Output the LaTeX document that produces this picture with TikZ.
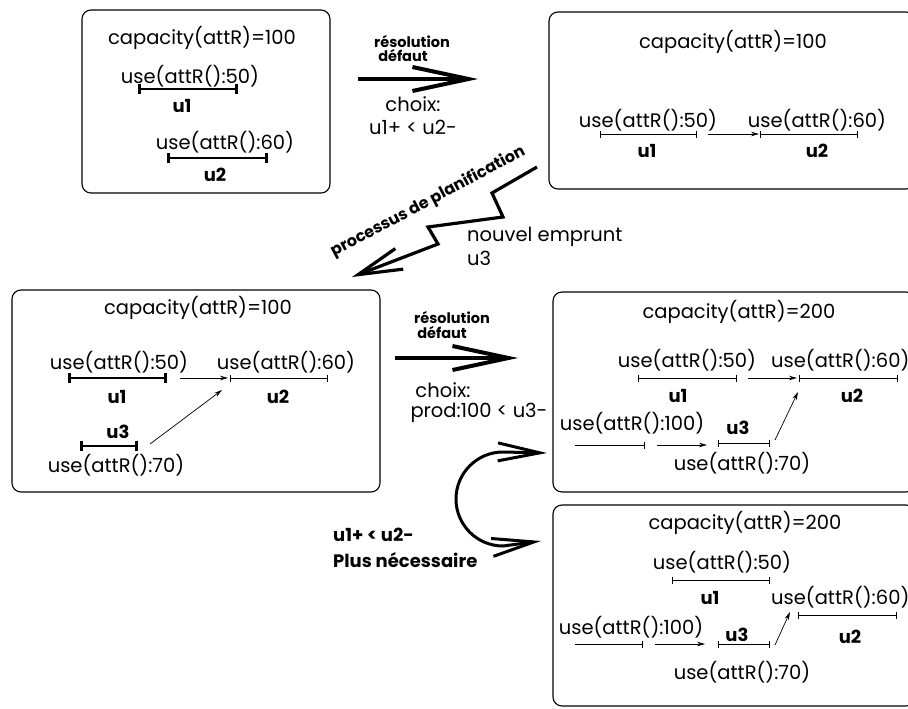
\documentclass[tikz,border=0pt]{standalone}
\usepackage{fontspec}
\setmainfont{Poppins}
\usetikzlibrary{arrows.meta}
\begin{document}
\begin{tikzpicture}[x=1pt,y=-1pt,
  box/.style={draw, rounded corners=9pt, line width=1.1pt, inner sep=0pt},
  txt/.style={inner sep=0pt, font=\fontsize{19.5}{21}\selectfont},
  btxt/.style={inner sep=0pt, font=\fontsize{18}{20}\selectfont\bfseries},
  small/.style={inner sep=0pt, font=\fontsize{14.5}{16}\selectfont\bfseries},
  hbar/.style={line width=2.6pt, {Bar[width=10pt]}-{Bar[width=10pt]}},
  tbar/.style={line width=0.8pt, {Bar[width=7pt]}-{Bar[width=7pt]}},
  tline/.style={line width=0.8pt, -{Bar[width=7pt]}},
  sarr/.style={line width=0.7pt, -{Stealth[length=8pt,width=4.5pt]}},
  bigarr/.style={line width=4pt, -{Straight Barb[length=56pt,width=24pt]}},
  zigarr/.style={line width=3.2pt, line join=miter, -{Straight Barb[length=44pt,width=22pt]}},
  curvarr/.style={line width=3pt, {Straight Barb[length=42pt,width=18pt]}-{Straight Barb[length=42pt,width=18pt]}},
]
\useasboundingbox (0,0) rectangle (908,709);
\clip (0,0) rectangle (908,709);

% ---------- Box 1 ----------
\node[box, minimum width=248pt, minimum height=183pt] (b1) at (206,101.5) {};
\node[txt] (b1cap) at (202,38) {capacity(attR)=100};
\node[txt] (b1t1) at (190,76) {use(attR():50)};
\coordinate (b1u1a) at (138,89); \coordinate (b1u1b) at (238,89);
\draw[hbar] (b1u1a) -- (b1u1b);
\node[btxt] (b1l1) at (182,106) {u1};
\node[txt] (b1t2) at (225,142) {use(attR():60)};
\coordinate (b1u2a) at (167,158); \coordinate (b1u2b) at (268,158);
\draw[hbar] (b1u2a) -- (b1u2b);
\node[btxt] (b1l2) at (215,175) {u2};

% ---------- Arrow 1 ----------
\node[small] (r1a) at (412,42) {résolution};
\node[small] (r1b) at (403,56) {défaut};
\coordinate (a1s) at (358,79); \coordinate (a1e) at (478,79);
\draw[bigarr] (a1s) -- (a1e);
\node[txt] (c1a) at (413,104) {choix:};
\node[txt] (c1b) at (413,127) {u1+ < u2-};

% ---------- Box 2 ----------
\node[box, minimum width=366pt, minimum height=177pt] (b2) at (732,100.5) {};
\node[txt] (b2cap) at (733,42) {capacity(attR)=100};
\node[txt] (b2t1) at (648,120) {use(attR():50)};
\coordinate (b2u1a) at (600,134); \coordinate (b2u1b) at (697,134);
\draw[tbar] (b2u1a) -- (b2u1b);
\node[btxt] (b2l1) at (647,151) {u1};
\coordinate (b2as) at (708,134); \coordinate (b2ae) at (759,134);
\draw[sarr] (b2as) -- (b2ae);
\node[txt] (b2t2) at (817,120) {use(attR():60)};
\coordinate (b2u2a) at (760,134); \coordinate (b2u2b) at (858,134);
\draw[tbar] (b2u2a) -- (b2u2b);
\node[btxt] (b2l2) at (817,151) {u2};

% ---------- Zigzag arrow ----------
\coordinate (z0) at (537,167);
\coordinate (z1) at (492,193);
\coordinate (z2) at (503,217);
\coordinate (z3) at (428,227);
\coordinate (z4) at (438,244);
\coordinate (z5) at (352,277);
\draw[zigarr] (z0) -- (z1) -- (z2) -- (z3) -- (z4) -- (z5);
\node[inner sep=0pt, font=\fontsize{16}{18}\selectfont\bfseries, rotate=28] (plan) at (428,202) {processus de planification};
\node[txt, anchor=west] (nv1) at (467,237) {nouvel emprunt};
\node[txt, anchor=west] (nv2) at (467,258) {u3};

% ---------- Box 3 ----------
\node[box, minimum width=368pt, minimum height=202pt] (b3) at (196,391) {};
\node[txt] (b3cap) at (198,308) {capacity(attR)=100};
\node[txt] (b3t1) at (119,362) {use(attR():50)};
\coordinate (b3u1a) at (68,378); \coordinate (b3u1b) at (167,378);
\draw[hbar] (b3u1a) -- (b3u1b);
\node[btxt] (b3l1) at (117,397) {u1};
\coordinate (b3as) at (180,378); \coordinate (b3ae) at (228,378);
\draw[sarr] (b3as) -- (b3ae);
\node[txt] (b3t2) at (286,362) {use(attR():60)};
\coordinate (b3u2a) at (230,378); \coordinate (b3u2b) at (328,378);
\draw[tbar] (b3u2a) -- (b3u2b);
\node[btxt] (b3l2) at (278,397) {u2};
\node[btxt] (b3l3) at (118,432) {u3};
\coordinate (b3u3a) at (80,446); \coordinate (b3u3b) at (138,446);
\draw[hbar] (b3u3a) -- (b3u3b);
\node[txt] (b3t3) at (116,465) {use(attR():70)};
\coordinate (b3bs) at (150,444); \coordinate (b3be) at (222,390);
\draw[sarr] (b3bs) -- (b3be);

% ---------- Arrow 2 ----------
\node[small] (r2a) at (452,318) {résolution};
\node[small] (r2b) at (442,333) {défaut};
\coordinate (a2s) at (395,358); \coordinate (a2e) at (518,358);
\draw[bigarr] (a2s) -- (a2e);
\node[txt] (c2a) at (443,390) {choix:};
\node[txt] (c2b) at (479,413) {prod:100 < u3-};

% ---------- Box 4 ----------
\node[box, minimum width=362pt, minimum height=200pt] (b4) at (734,392) {};
\node[txt] (b4cap) at (739,312) {capacity(attR)=200};
\node[txt] (b4t1) at (687,360) {use(attR():50)};
\coordinate (b4u1a) at (638,378); \coordinate (b4u1b) at (737,378);
\draw[tbar] (b4u1a) -- (b4u1b);
\node[btxt] (b4l1) at (678,396) {u1};
\coordinate (b4as) at (748,378); \coordinate (b4ae) at (797,378);
\draw[sarr] (b4as) -- (b4ae);
\node[txt, anchor=west] (b4t2) at (771,360) {use(attR():60)};
\coordinate (b4u2a) at (799,378); \coordinate (b4u2b) at (898,378);
\draw[tbar] (b4u2a) -- (b4u2b);
\node[btxt] (b4l2) at (852,396) {u2};
\node[txt] (b4t4) at (632,423) {use(attR():100)};
\coordinate (b4pa) at (575,445); \coordinate (b4pb) at (645,445);
\draw[tline] (b4pa) -- (b4pb);
\coordinate (b4cs) at (657,445); \coordinate (b4ce) at (707,445);
\draw[sarr] (b4cs) -- (b4ce);
\node[btxt] (b4l3) at (738,428) {u3};
\coordinate (b4u3a) at (718,443); \coordinate (b4u3b) at (770,443);
\draw[tbar] (b4u3a) -- (b4u3b);
\node[txt] (b4t3) at (742,463) {use(attR():70)};
\coordinate (b4bs) at (775,440); \coordinate (b4be) at (798,392);
\draw[sarr] (b4bs) -- (b4be);

% ---------- Curved arrow ----------
\coordinate (cv0) at (547,453);
\coordinate (cv1) at (503,452);
\coordinate (cv2) at (503,546);
\coordinate (cv3) at (541,541);
\draw[curvarr] (cv0) -- (cv1) arc[start angle=90, end angle=270, radius=47pt] -- (cv3);
\node[btxt, anchor=west] (nc1) at (333,535) {u1+ < u2-};
\node[btxt, anchor=west] (nc2) at (333,560) {Plus nécessaire};

% ---------- Box 5 ----------
\node[box, minimum width=362pt, minimum height=201pt] (b5) at (734,605.5) {};
\node[txt] (b5cap) at (745,523) {capacity(attR)=200};
\node[txt] (b5t1) at (722,562) {use(attR():50)};
\coordinate (b5u1a) at (672,580); \coordinate (b5u1b) at (770,580);
\draw[tbar] (b5u1a) -- (b5u1b);
\node[btxt] (b5l1) at (710,598) {u1};
\node[txt, anchor=west] (b5t2) at (771,597) {use(attR():60)};
\coordinate (b5u2a) at (798,615); \coordinate (b5u2b) at (897,615);
\draw[tbar] (b5u2a) -- (b5u2b);
\node[btxt] (b5l2) at (850,637) {u2};
\node[txt] (b5t4) at (631,627) {use(attR():100)};
\coordinate (b5pa) at (575,644); \coordinate (b5pb) at (643,644);
\draw[tline] (b5pa) -- (b5pb);
\coordinate (b5cs) at (655,644); \coordinate (b5ce) at (705,644);
\draw[sarr] (b5cs) -- (b5ce);
\node[btxt] (b5l3) at (737,635) {u3};
\coordinate (b5u3a) at (718,644); \coordinate (b5u3b) at (770,644);
\draw[tbar] (b5u3a) -- (b5u3b);
\node[txt] (b5t3) at (742,672) {use(attR():70)};
\coordinate (b5bs) at (775,645); \coordinate (b5be) at (790,612);
\draw[sarr] (b5bs) -- (b5be);
\end{tikzpicture}
\end{document}
